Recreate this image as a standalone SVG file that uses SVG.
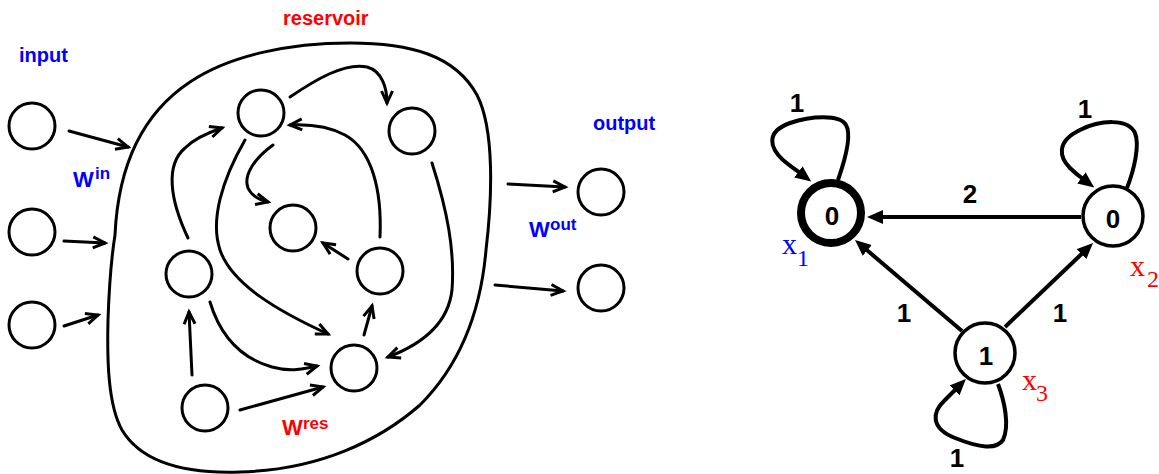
<svg xmlns="http://www.w3.org/2000/svg" width="1159" height="474" viewBox="0 0 1159 474">
<style>
.nd{fill:#fff;stroke:#000;stroke-width:3}
.ed{fill:none;stroke:#000;stroke-width:3;stroke-linecap:round;marker-end:url(#open)}
.ge{fill:none;stroke:#000;stroke-width:4;marker-end:url(#tri)}
.lb{font-family:"Liberation Sans",Arial,sans-serif;font-weight:bold}
.blue{fill:#0000ff}
.red{fill:#ff0000}
.num{font-family:"Liberation Sans",Arial,sans-serif;font-weight:bold;font-size:26px;text-anchor:middle}
.ser{font-family:"Liberation Serif","Times New Roman",serif}
</style>
<defs>
<marker id="open" viewBox="-2 -2 16 15" refX="12" refY="5.5" markerWidth="16" markerHeight="15" markerUnits="userSpaceOnUse" orient="auto" overflow="visible">
<path d="M0,0 L12,5.5 L0,11" fill="none" stroke="#000" stroke-width="3"/>
</marker>
<marker id="tri" viewBox="0 0 16 14" refX="2" refY="7" markerWidth="16" markerHeight="14" markerUnits="userSpaceOnUse" orient="auto">
<path d="M0,0 L16,7 L0,14 Z" fill="#000"/>
</marker>
</defs>

<!-- reservoir outline -->
<path id="reservoir-boundary" d="M115,235 C118,170 140,115 190,82 C230,55 290,43 350,43 C410,43 455,55 477,95 C495,130 492,200 486,250 C480,320 455,370 420,405 C380,440 320,470 240,472 C180,474 140,460 122,430 C108,405 107,360 108,320 C109,290 111,260 115,235 Z" fill="none" stroke="#000" stroke-width="3"/>

<!-- labels -->
<text class="lb blue" x="19" y="62" font-size="20">input</text>
<text class="lb red" x="283" y="25" font-size="20">reservoir</text>
<text class="lb blue" x="593" y="130" font-size="20">output</text>
<text class="lb blue" x="73" y="187" font-size="22">W</text>
<text class="lb blue" x="95" y="179" font-size="17">in</text>
<text class="lb blue" x="529" y="237" font-size="22">W</text>
<text class="lb blue" x="550" y="230" font-size="17">out</text>
<text class="lb red" x="282" y="435" font-size="22">W</text>
<text class="lb red" x="303" y="429" font-size="17">res</text>

<!-- connectors -->
<g id="connectors">
<path class="ed" d="M69,131 L128,147"/>
<path class="ed" d="M64,241 L105,243"/>
<path class="ed" d="M64,326 L98,315"/>
<path class="ed" d="M508,184 L565,187"/>
<path class="ed" d="M495,285 L563,291"/>
<path class="ed" d="M290,97 C315,80 345,62 367,67 C382,71 387,88 387,103"/>
<path class="ed" d="M188,238 C170,200 165,165 185,148 C195,138 210,132 222,128"/>
<path class="ed" d="M245,140 C222,180 210,220 220,250 C232,285 280,312 328,334"/>
<path class="ed" d="M273,145 C255,158 243,175 248,188 C252,197 260,200 268,202"/>
<path class="ed" d="M380,237 C382,190 372,150 345,135 C330,127 310,124 290,125"/>
<path class="ed" d="M432,163 C447,210 455,250 452,290 C448,325 420,345 388,357"/>
<path class="ed" d="M348,259 L323,243"/>
<path class="ed" d="M364,335 L372,306"/>
<path class="ed" d="M192,375 L189,312"/>
<path class="ed" d="M210,302 C220,335 240,358 272,367 C290,372 305,369 317,366"/>
<path class="ed" d="M240,410 L323,387"/>

<path class="ge" d="M1081,217 L881,217"/>
<path class="ge" d="M962,331 L865.7,249.1"/>
<path class="ge" d="M1005,327 L1082.9,252.7"/>
<path class="ge" d="M838,180 C845,160 852,135 846,125 C840,114 810,116 790,123 C765,132 770,148 783,160 C790,166 796,170 800,173"/>
<path class="ge" d="M1127,188 C1134,170 1140,145 1135,133 C1128,118 1100,120 1080,130 C1055,142 1060,158 1070,168 C1075,173 1079,176 1083,179"/>
<path class="ge" d="M998,384 C1004,400 1010,425 1003,440 C996,450 980,448 955,438 C930,428 932,412 945,400 C949,396 952,393 956,389"/>
</g>

<!-- input nodes -->
<g id="in1"><circle class="nd" cx="32" cy="126" r="23"/></g>
<g id="in2"><circle class="nd" cx="32" cy="232" r="23"/></g>
<g id="in3"><circle class="nd" cx="32" cy="325" r="23"/></g>
<!-- reservoir nodes -->
<g id="r1"><circle class="nd" cx="261" cy="113" r="23"/></g>
<g id="r2"><circle class="nd" cx="412" cy="131" r="23"/></g>
<g id="r3"><circle class="nd" cx="293" cy="228" r="23"/></g>
<g id="r4"><circle class="nd" cx="189" cy="274" r="23"/></g>
<g id="r5"><circle class="nd" cx="380" cy="271" r="23"/></g>
<g id="r6"><circle class="nd" cx="354" cy="368" r="23"/></g>
<g id="r7"><circle class="nd" cx="205" cy="408" r="23"/></g>
<!-- output nodes -->
<g id="out1"><circle class="nd" cx="601" cy="192" r="23"/></g>
<g id="out2"><circle class="nd" cx="601" cy="288" r="23"/></g>

<!-- right graph nodes -->
<g id="x1">
<circle cx="831" cy="213" r="30" fill="#fff" stroke="#000" stroke-width="8"/>
<text class="num" x="832" y="225">0</text>
<text class="ser blue" x="782" y="254" font-size="30">x<tspan x="797" y="266" font-size="24">1</tspan></text>
</g>
<g id="x2">
<circle cx="1113" cy="216" r="30" fill="#fff" stroke="#000" stroke-width="3.5"/>
<text class="num" x="1113" y="228">0</text>
<text class="ser red" x="1130" y="276" font-size="30">x<tspan x="1147" y="287" font-size="24">2</tspan></text>
</g>
<g id="x3">
<circle cx="985" cy="353" r="30" fill="#fff" stroke="#000" stroke-width="3.5"/>
<text class="num" x="986" y="365">1</text>
<text class="ser red" x="1022" y="390" font-size="30">x<tspan x="1036" y="401" font-size="24">3</tspan></text>
</g>

<!-- edge labels -->
<g id="edge-labels">
<text class="num" x="970" y="203">2</text>
<text class="num" x="797" y="112">1</text>
<text class="num" x="1085" y="118">1</text>
<text class="num" x="904" y="322">1</text>
<text class="num" x="1060" y="322">1</text>
<text class="num" x="957" y="467" font-size="24">1</text>
</g>
</svg>
